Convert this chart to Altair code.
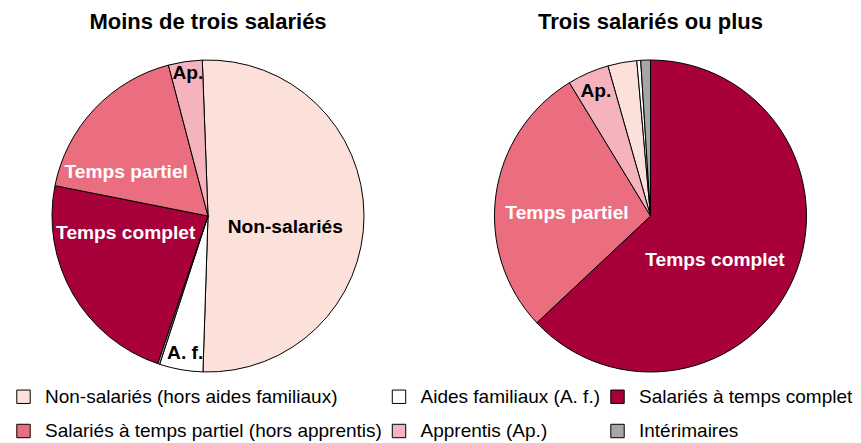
import math
import altair as alt
import pandas as pd

# ---- data ----
CATEGORIES = [
    "Non-salariés (hors aides familiaux)",
    "Aides familiaux (A. f.)",
    "Salariés à temps complet",
    "Salariés à temps partiel (hors apprentis)",
    "Apprentis (Ap.)",
    "Intérimaires",
]
SHORT_LABELS = ["Non-salariés", "A. f.", "Temps complet", "Temps partiel", "Ap.", ""]
# clockwise drawing order inside each pie (index into CATEGORIES)
PIE_ORDER = [0, 1, 5, 2, 3, 4]
LEFT_TITLE = "Moins de trois salariés"
RIGHT_TITLE = "Trois salariés ou plus"
LEFT_VALUES = [51.1, 4.5, 22.9, 17.8, 3.5, 0.2]
RIGHT_VALUES = [3.0, 0.4, 63.0, 28.3, 4.3, 1.0]

# ---- style / layout ----
COLORS = ["#FCE0DA", "#FFFFFF", "#A8003A", "#EB6E80", "#F5B3BE", "#A6A6A6"]
LABEL_COLORS = ["black", "black", "white", "white", "black", "black"]
FONT = "Liberation Sans"
RADIUS = 156
# rotation of the first slice (degrees) and label placement (radius, angle shift in degrees)
LEFT_START = -2.1
RIGHT_START = -15.84
LEFT_LAYOUT = {0: (78, 8.2), 1: (139, -0.5), 2: (84, 18.3), 3: (93, -14.8), 4: (144, 0.4)}
RIGHT_LAYOUT = {2: (78, 10.9), 3: (83.5, -5.9), 4: (136, -0.1)}


def pie(values, start_deg, title, layout, show_legend):
    df = pd.DataFrame({
        "category": CATEGORIES,
        "value": values,
        "ord": [PIE_ORDER.index(i) for i in range(len(CATEGORIES))],
    })
    s = math.radians(start_deg)
    if show_legend:
        legend = alt.Legend(
            orient="none", legendX=6, legendY=331, columns=3, direction="horizontal",
            title=None, symbolType="square", symbolSize=180, symbolStrokeColor="black",
            symbolStrokeWidth=1, labelFont=FONT, labelFontSize=19, labelColor="black",
            labelOffset=12, columnPadding=7.5, rowPadding=14.5, labelLimit=600, padding=0,
        )
    else:
        legend = None
    arcs = alt.Chart(df).mark_arc(radius=RADIUS, stroke="black", strokeWidth=1).encode(
        theta=alt.Theta("value:Q", stack=True, scale=alt.Scale(range=[s, s + 2 * math.pi])),
        color=alt.Color("category:N", scale=alt.Scale(domain=CATEGORIES, range=COLORS),
                        legend=legend),
        order=alt.Order("ord:Q"),
    )
    # label angles derived from the cumulative values
    total = sum(values)
    cum = 0.0
    mids = {}
    for i in PIE_ORDER:
        mids[i] = start_deg + (cum + values[i] / 2) / total * 360
        cum += values[i]
    rows = []
    for i, (r, shift) in layout.items():
        rows.append({"label": SHORT_LABELS[i], "t": math.radians(mids[i] + shift),
                     "r": r, "tc": LABEL_COLORS[i]})
    tdf = pd.DataFrame(rows)
    layers = [arcs]
    for col in ["black", "white"]:
        sub = tdf[tdf["tc"] == col]
        if len(sub):
            layers.append(
                alt.Chart(sub).mark_text(font=FONT, fontWeight="bold", fontSize=19.2,
                                         color=col, align="center", baseline="middle").encode(
                    theta=alt.Theta("t:Q", scale=None),
                    radius=alt.Radius("r:Q", scale=None),
                    text="label:N",
                )
            )
    return alt.layer(*layers).properties(
        width=400, height=320,
        title=alt.Title(title, font=FONT, fontSize=22, fontWeight="bold", offset=22, color="black"),
    )


left = pie(LEFT_VALUES, LEFT_START, LEFT_TITLE, LEFT_LAYOUT, True)
right = pie(RIGHT_VALUES, RIGHT_START, RIGHT_TITLE, RIGHT_LAYOUT, False)

chart = alt.hconcat(left, right, spacing=42.5).resolve_scale(
    theta="independent"
).properties(
    padding={"left": 0, "top": 3, "right": 0, "bottom": 0}
).configure_view(stroke=None)

chart.save("out.html", embed_options={"renderer": "svg", "actions": False})
